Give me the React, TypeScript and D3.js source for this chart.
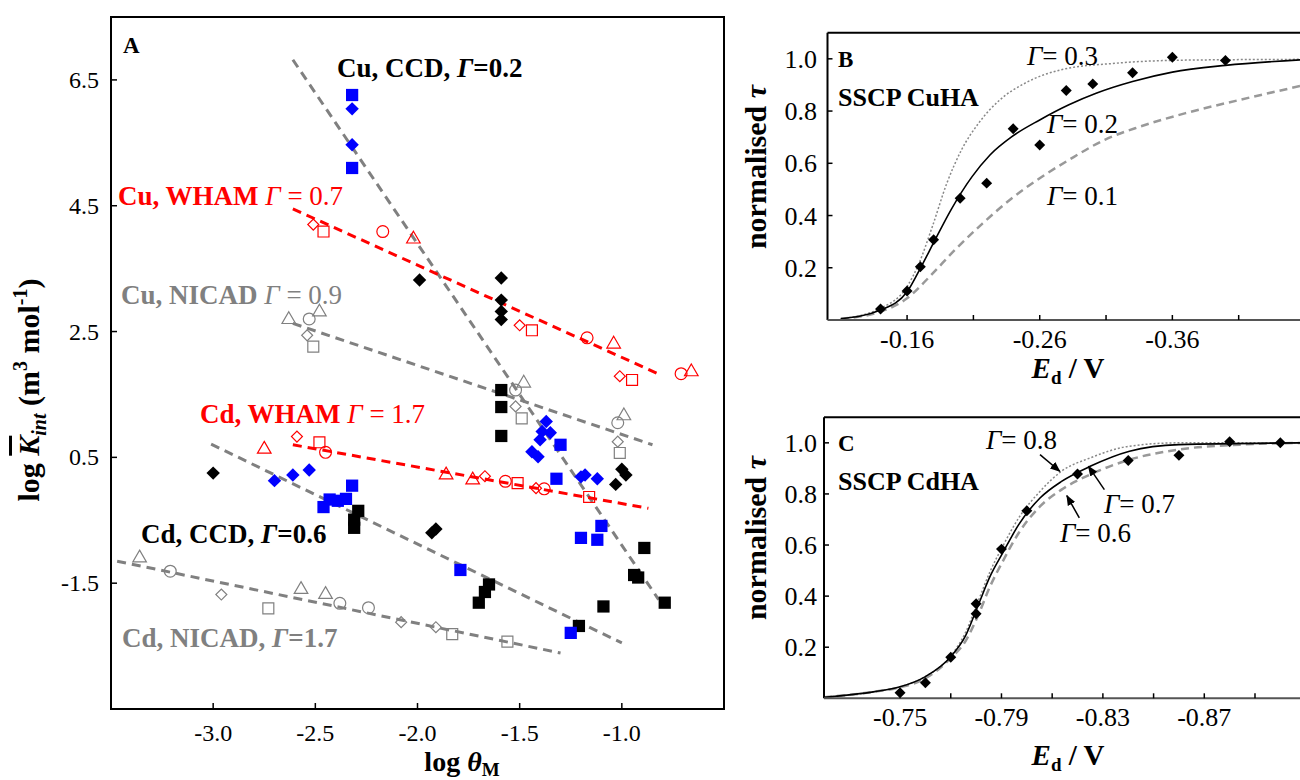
import React from 'react';
import * as d3 from 'd3';

const FONT = '"Liberation Serif", "Times New Roman", serif';

// ---------- panel A : log K_int vs log theta_M ----------
// CCD (filled) points
const blueSquares = [[-2.32,6.26],[-2.32,5.10],[-2.46,-0.29],[-2.43,-0.17],[-2.39,-0.19],[-2.35,-0.16],[-2.32,0.05],
  [-1.79,-1.29],[-1.30,0.70],[-1.32,0.16],[-1.10,-0.59],[-1.20,-0.78],[-1.12,-0.81],[-1.25,-2.29]];
const blueDiamonds = [[-2.32,6.04],[-2.32,5.47],[-2.70,0.13],[-2.61,0.22],[-2.53,0.30],[-1.37,1.07],[-1.39,0.91],
  [-1.35,0.89],[-1.40,0.78],[-1.44,0.59],[-1.41,0.51],[-1.20,0.19],[-1.18,0.22],[-1.12,0.16]];
const blackSquares = [[-2.29,-0.35],[-2.31,-0.49],[-2.31,-0.62],[-1.59,1.57],[-1.59,1.30],[-1.59,0.84],[-1.65,-1.52],
  [-1.67,-1.64],[-1.70,-1.81],[-0.89,-0.94],[-0.94,-1.37],[-0.92,-1.41],[-0.79,-1.81],[-1.09,-1.87],[-1.21,-2.18]];
const blackDiamonds = [[-3.00,0.25],[-1.99,3.32],[-1.59,3.35],[-1.59,3.00],[-1.59,2.82],[-1.59,2.69],[-1.93,-0.70],
  [-1.91,-0.64],[-1.00,0.31],[-0.98,0.22],[-1.03,0.07]];

// WHAM / NICAD (open) points: x, y, shape
const whamCu = [[-2.02,3.97,'tri'],[-1.04,2.30,'tri'],[-0.66,1.86,'tri'],[-2.17,4.09,'circ'],[-1.17,2.40,'circ'],[-0.71,1.83,'circ'],
  [-2.51,4.20,'dia'],[-1.50,2.60,'dia'],[-1.01,1.79,'dia'],[-2.46,4.09,'sq'],[-1.44,2.52,'sq'],[-0.95,1.73,'sq']];
const whamCd = [[-2.75,0.63,'tri'],[-1.86,0.22,'tri'],[-1.73,0.14,'tri'],[-2.59,0.83,'dia'],[-1.67,0.20,'dia'],[-1.42,0.01,'dia'],
  [-2.48,0.74,'sq'],[-1.51,0.09,'sq'],[-1.16,-0.13,'sq'],[-2.45,0.58,'circ'],[-1.57,0.12,'circ'],[-1.38,0.00,'circ']];
const nicadCu = [[-2.63,2.69,'tri'],[-2.48,2.81,'tri'],[-1.48,1.68,'tri'],[-0.99,1.16,'tri'],[-2.53,2.70,'circ'],[-1.52,1.57,'circ'],
  [-1.02,1.05,'circ'],[-2.54,2.44,'dia'],[-1.52,1.31,'dia'],[-1.02,0.75,'dia'],[-2.51,2.26,'sq'],[-1.49,1.12,'sq'],[-1.01,0.57,'sq']];
const nicadCd = [[-3.36,-1.10,'tri'],[-2.57,-1.60,'tri'],[-2.45,-1.68,'tri'],[-3.21,-1.31,'circ'],[-2.38,-1.82,'circ'],[-2.24,-1.89,'circ'],
  [-2.96,-1.68,'dia'],[-2.08,-2.12,'dia'],[-1.91,-2.20,'dia'],[-2.73,-1.90,'sq'],[-1.83,-2.31,'sq'],[-1.56,-2.43,'sq']];

// dashed fit lines
const fitCuCcd = [[-2.61,6.82],[-0.82,-1.76]];
const fitCuWham = [[-2.61,4.45],[-0.83,1.84]];
const fitCuNicad = [[-2.61,2.63],[-0.85,0.70]];
const fitCdWham = [[-2.61,0.70],[-0.87,-0.31]];
const fitCdCcd = [[-3.01,0.71],[-1.00,-2.45]];
const fitCdNicad = [[-3.47,-1.15],[-1.30,-2.61]];

const ticksAx = [-3.0, -2.5, -2.0, -1.5, -1.0];
const ticksAy = [6.5, 4.5, 2.5, 0.5, -1.5];

// ---------- panel B : SSCP CuHA ----------
const cuE = [-0.14,-0.16,-0.17,-0.18,-0.20,-0.22,-0.24,-0.26,-0.28,-0.30,-0.33,-0.36,-0.40];
const cuTau = [0.042,0.111,0.204,0.307,0.466,0.524,0.732,0.670,0.879,0.904,0.947,1.006,0.994];
const cuG03 = [[-0.11,0.005],[-0.14,0.045],[-0.16,0.128],[-0.169,0.217],[-0.179,0.357],[-0.19,0.524],[-0.201,0.651],
  [-0.214,0.754],[-0.23,0.843],[-0.249,0.907],[-0.276,0.958],[-0.317,0.983],[-0.37,0.995],[-0.46,0.998]];
const cuG02 = [[-0.11,0.005],[-0.14,0.038],[-0.16,0.108],[-0.17,0.198],[-0.181,0.306],[-0.193,0.421],[-0.209,0.549],
  [-0.2225,0.632],[-0.239,0.702],[-0.26,0.766],[-0.282,0.824],[-0.303,0.869],[-0.33,0.913],[-0.36,0.949],[-0.40,0.975],[-0.46,0.997]];
const cuG01 = [[-0.11,0.005],[-0.14,0.032],[-0.16,0.083],[-0.177,0.166],[-0.196,0.268],[-0.217,0.370],[-0.239,0.466],
  [-0.26,0.543],[-0.282,0.613],[-0.309,0.690],[-0.336,0.741],[-0.37,0.792],[-0.411,0.843],[-0.46,0.900]];
const ticksBx = [-0.16,-0.21,-0.26,-0.31,-0.36,-0.41,-0.46];
const labelsBx = [-0.16,-0.26,-0.36];

// ---------- panel C : SSCP CdHA ----------
const cdE = [-0.75,-0.76,-0.77,-0.78,-0.78,-0.79,-0.80,-0.82,-0.84,-0.86,-0.88,-0.90];
const cdTau = [0.022,0.061,0.161,0.370,0.331,0.584,0.734,0.878,0.931,0.951,1.004,1.0];
const cdG08 = [[-0.72,0.004],[-0.74,0.026],[-0.75,0.045],[-0.76,0.085],[-0.77,0.166],[-0.7757,0.255],[-0.7806,0.375],
  [-0.7855,0.496],[-0.7905,0.595],[-0.7968,0.706],[-0.8052,0.810],[-0.8137,0.889],[-0.825,0.941],[-0.8405,0.987],[-0.86,1.0],[-0.91,1.0]];
const cdG07 = [[-0.72,0.004],[-0.74,0.026],[-0.75,0.045],[-0.76,0.085],[-0.77,0.163],[-0.7757,0.242],[-0.7806,0.359],
  [-0.7855,0.477],[-0.7905,0.569],[-0.7968,0.680],[-0.8052,0.784],[-0.8137,0.849],[-0.825,0.908],[-0.8405,0.967],[-0.86,0.993],[-0.91,1.0]];
const cdG06 = [[-0.72,0.004],[-0.74,0.026],[-0.75,0.043],[-0.76,0.078],[-0.77,0.157],[-0.7757,0.222],[-0.7806,0.320],
  [-0.7855,0.438],[-0.7905,0.536],[-0.7968,0.647],[-0.8052,0.751],[-0.8137,0.817],[-0.825,0.876],[-0.8405,0.934],[-0.86,0.974],[-0.884,0.993],[-0.91,1.0]];
const ticksCx = [-0.75,-0.77,-0.79,-0.81,-0.83,-0.85,-0.87,-0.89,-0.91];
const labelsCx = [-0.75,-0.79,-0.83,-0.87];
const ticksTau = [0.2, 0.4, 0.6, 0.8, 1.0];
// arrows for panel C: [tailE, tailTau, headE, headTau]
const arrowsC = [[-0.8052,0.954,-0.813,0.889],[-0.8306,0.817,-0.8243,0.908],[-0.8207,0.706,-0.8158,0.793]];

// scales
const xA = d3.scaleLinear().domain([-3.5, -0.5]).range([111, 724]);
const yA = d3.scaleLinear().domain([-3.5, 7.5]).range([709, 17]);
const xB = d3.scaleLinear().domain([-0.10, -0.46]).range([827.5, 1305]);
const yB = d3.scaleLinear().domain([0, 1.1]).range([320, 32.7]);
const xC = d3.scaleLinear().domain([-0.72, -0.91]).range([824, 1305.7]);
const yC = d3.scaleLinear().domain([0, 1.1]).range([698.3, 417.3]);

const symPath = (shape, size) => {
  if (shape === 'tri') return d3.symbol(d3.symbolTriangle, size)();
  if (shape === 'circ') return d3.symbol(d3.symbolCircle, size)();
  return d3.symbol(d3.symbolSquare, size)();
};
const openSize = { tri: 80, circ: 110, dia: 60, sq: 120 };

function Mark({ x, y, shape, size, fill, stroke }) {
  const rot = shape === 'dia' ? ' rotate(45)' : '';
  return <path d={symPath(shape, size)} transform={`translate(${x},${y})${rot}`}
    fill={fill} stroke={stroke || 'none'} strokeWidth={1.2} />;
}

function Fit({ pts, color }) {
  const line = d3.line().x(d => xA(d[0])).y(d => yA(d[1]));
  return <path d={line(pts)} fill="none" stroke={color} strokeWidth={3} strokeDasharray="9 6" />;
}

const G = () => <tspan fontStyle="italic">Γ</tspan>;

function PanelA() {
  return (
    <g>
      <rect x={111} y={17} width={613} height={692} fill="none" stroke="#000" strokeWidth={2} />
      {ticksAx.map(t => (
        <g key={t}>
          <line x1={xA(t)} x2={xA(t)} y1={709} y2={703} stroke="#000" strokeWidth={1.5} />
          <text x={xA(t)} y={741} textAnchor="middle" fontSize={24}>{t.toFixed(1)}</text>
        </g>
      ))}
      {ticksAy.map(t => (
        <g key={t}>
          <line x1={111} x2={117} y1={yA(t)} y2={yA(t)} stroke="#000" strokeWidth={1.5} />
          <text x={99} y={yA(t) + 8} textAnchor="end" fontSize={24}>{t.toFixed(1)}</text>
        </g>
      ))}
      <text x={462} y={771} textAnchor="middle" fontSize={28} fontWeight="bold">
        log <tspan fontStyle="italic">θ</tspan><tspan fontSize={19} dy={5}>M</tspan>
      </text>
      <text transform="translate(39,390) rotate(-90)" textAnchor="middle" fontSize={30} fontWeight="bold">
        log <tspan fontStyle="italic" style={{ textDecoration: 'overline' }}>K</tspan>
        <tspan fontSize={20} dy={7} fontStyle="italic">int</tspan>
        <tspan dy={-7}> (m</tspan><tspan fontSize={20} dy={-12}>3</tspan>
        <tspan dy={12}> mol</tspan><tspan fontSize={20} dy={-12}>-1</tspan><tspan dy={12}>)</tspan>
      </text>

      <Fit pts={fitCuCcd} color="#808080" />
      <Fit pts={fitCuNicad} color="#808080" />
      <Fit pts={fitCdCcd} color="#808080" />
      <Fit pts={fitCdNicad} color="#808080" />
      <Fit pts={fitCuWham} color="#ff0000" />
      <Fit pts={fitCdWham} color="#ff0000" />

      {nicadCu.concat(nicadCd).map((d, i) => (
        <Mark key={'n' + i} x={xA(d[0])} y={yA(d[1])} shape={d[2]} size={openSize[d[2]]} fill="none" stroke="#808080" />
      ))}
      {whamCu.concat(whamCd).map((d, i) => (
        <Mark key={'w' + i} x={xA(d[0])} y={yA(d[1])} shape={d[2]} size={openSize[d[2]]} fill="none" stroke="#ff0000" />
      ))}
      {blackDiamonds.map((d, i) => <Mark key={'bd' + i} x={xA(d[0])} y={yA(d[1])} shape="dia" size={90} fill="#000" />)}
      {blackSquares.map((d, i) => <Mark key={'bs' + i} x={xA(d[0])} y={yA(d[1])} shape="sq" size={150} fill="#000" />)}
      {blueDiamonds.map((d, i) => <Mark key={'ud' + i} x={xA(d[0])} y={yA(d[1])} shape="dia" size={90} fill="#0000ff" />)}
      {blueSquares.map((d, i) => <Mark key={'us' + i} x={xA(d[0])} y={yA(d[1])} shape="sq" size={150} fill="#0000ff" />)}

      <text x={123} y={53} fontSize={23} fontWeight="bold">A</text>
      <text x={337} y={77} fontSize={27} fontWeight="bold">Cu, CCD, <G />=0.2</text>
      <text x={118} y={205} fontSize={27} fill="#ff0000"><tspan fontWeight="bold">Cu, WHAM </tspan><G /> = 0.7</text>
      <text x={121} y={304} fontSize={27} fill="#808080"><tspan fontWeight="bold">Cu, NICAD </tspan><G /> = 0.9</text>
      <text x={200} y={423} fontSize={27} fill="#ff0000"><tspan fontWeight="bold">Cd, WHAM </tspan><G /> = 1.7</text>
      <text x={141} y={543} fontSize={27} fontWeight="bold">Cd, CCD, <G />=0.6</text>
      <text x={122} y={647} fontSize={27} fontWeight="bold" fill="#808080">Cd, NICAD, <G />=1.7</text>
    </g>
  );
}

function TauPanel({ x, y, top, bottom, left, ticksX, labelsX, fmt, points, curves, letter, title, labelY, xTitleY }) {
  const line = d3.line().x(d => x(d[0])).y(d => y(d[1])).curve(d3.curveMonotoneX);
  return (
    <g>
      <defs>
        <clipPath id={'clip' + letter}><rect x={left} y={top} width={1300 - left} height={bottom - top} /></clipPath>
      </defs>
      {curves.map((c, i) => (
        <path key={i} d={line(c.pts)} fill="none" stroke={c.color} strokeWidth={c.w} strokeDasharray={c.dash}
          clipPath={`url(#clip${letter})`} />
      ))}
      {points.map((d, i) => (
        <Mark key={i} x={x(d[0])} y={y(d[1])} shape="dia" size={60} fill="#000" />
      ))}
      <line x1={left} x2={1300} y1={top} y2={top} stroke="#000" strokeWidth={2} />
      <line x1={left} x2={left} y1={top} y2={bottom} stroke="#000" strokeWidth={2} />
      <line x1={left} x2={1300} y1={bottom} y2={bottom} stroke="#555" strokeWidth={2} />
      {ticksTau.map(t => (
        <g key={t}>
          <line x1={left} x2={left + 5} y1={y(t)} y2={y(t)} stroke="#000" strokeWidth={1.5} />
          <text x={817} y={y(t) + 9} textAnchor="end" fontSize={26}>{t.toFixed(1)}</text>
        </g>
      ))}
      {ticksX.map(t => (
        <line key={t} x1={x(t)} x2={x(t)} y1={bottom} y2={bottom - 5} stroke="#000" strokeWidth={1.5} />
      ))}
      {labelsX.map(t => (
        <text key={t} x={x(t)} y={bottom + 28} textAnchor="middle" fontSize={26}>{t.toFixed(fmt)}</text>
      ))}
      <text x={1068} y={xTitleY} textAnchor="middle" fontSize={29} fontWeight="bold">
        <tspan fontStyle="italic">E</tspan><tspan fontSize={19} dy={6}>d</tspan><tspan dy={-6}> / V</tspan>
      </text>
      <text transform={`translate(766,${labelY}) rotate(-90)`} textAnchor="middle" fontSize={30} fontWeight="bold">
        normalised <tspan fontStyle="italic">τ</tspan>
      </text>
      <text x={838} y={top + 34} fontSize={23} fontWeight="bold">{letter}</text>
      <text x={838} y={top + 73} fontSize={26} fontWeight="bold">{title}</text>
    </g>
  );
}

export default function App() {
  const ptsB = cuE.map((e, i) => [e, cuTau[i]]);
  const ptsC = cdE.map((e, i) => [e, cdTau[i]]);
  return (
    <svg width={1300} height={780} style={{ position: 'absolute', left: 0, top: 0, background: '#fff' }}
      fontFamily={FONT}>
      <defs>
        <marker id="arrowHead" viewBox="0 0 10 10" refX={9} refY={5} markerWidth={7} markerHeight={7} orient="auto">
          <path d="M0,1 L10,5 L0,9 z" fill="#000" />
        </marker>
      </defs>
      <PanelA />
      <TauPanel x={xB} y={yB} top={32.7} bottom={320} left={827.5} ticksX={ticksBx} labelsX={labelsBx} fmt={2}
        points={ptsB} letter="B" title="SSCP CuHA" labelY={167} xTitleY={378}
        curves={[
          { pts: cuG03, color: '#888', w: 1.5, dash: '2 2' },
          { pts: cuG01, color: '#999', w: 2.5, dash: '8 5' },
          { pts: cuG02, color: '#000', w: 1.6 },
        ]} />
      <text x={1027} y={65} fontSize={27}><G />= 0.3</text>
      <text x={1047} y={133} fontSize={27}><G />= 0.2</text>
      <text x={1047} y={205} fontSize={27}><G />= 0.1</text>

      <TauPanel x={xC} y={yC} top={417.3} bottom={698.3} left={824} ticksX={ticksCx} labelsX={labelsCx} fmt={2}
        points={ptsC} letter="C" title="SSCP CdHA" labelY={538} xTitleY={765}
        curves={[
          { pts: cdG08, color: '#888', w: 1.5, dash: '2 2' },
          { pts: cdG06, color: '#999', w: 2.5, dash: '8 5' },
          { pts: cdG07, color: '#000', w: 1.6 },
        ]} />
      {arrowsC.map((a, i) => (
        <line key={i} x1={xC(a[0])} y1={yC(a[1])} x2={xC(a[2])} y2={yC(a[3])} stroke="#000" strokeWidth={1.5}
          markerEnd="url(#arrowHead)" />
      ))}
      <text x={986} y={449} fontSize={27}><G />= 0.8</text>
      <text x={1104} y={513} fontSize={27}><G />= 0.7</text>
      <text x={1060} y={542} fontSize={27}><G />= 0.6</text>
    </svg>
  );
}
